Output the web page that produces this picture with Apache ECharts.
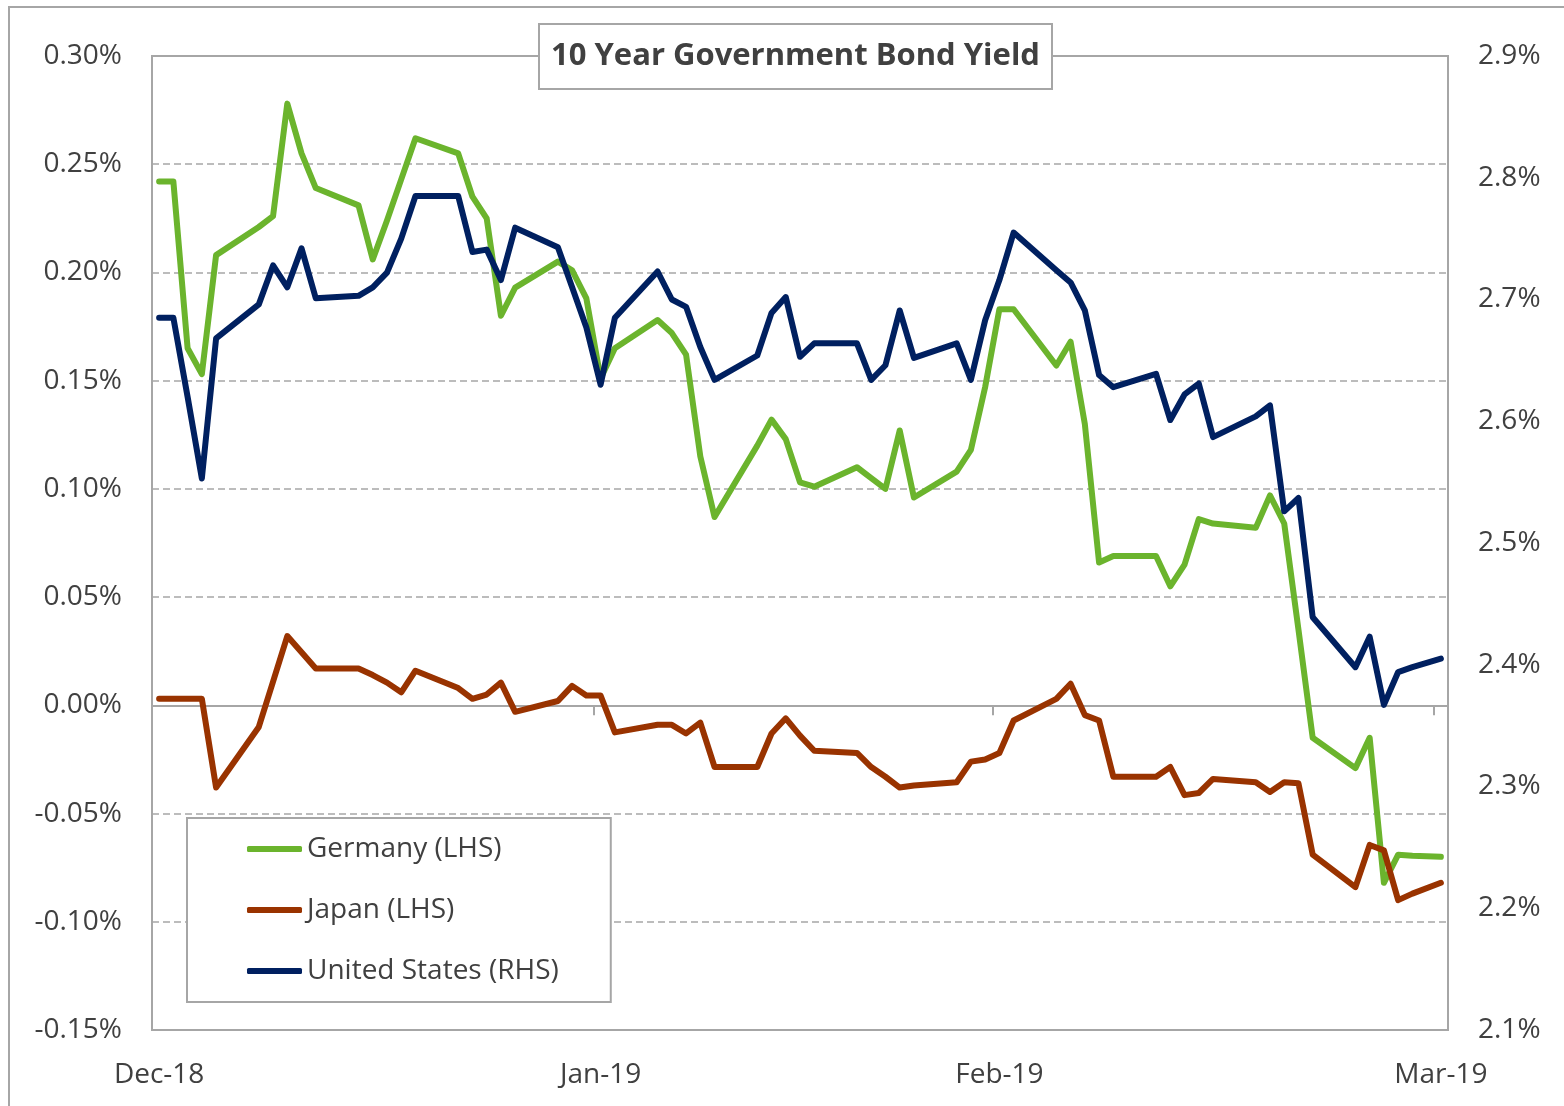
<!DOCTYPE html>
<html>
<head>
    <meta charset="UTF-8">
    <title>10 Year Government Bond Yield</title>
    <script src="https://cdn.jsdelivr.net/npm/echarts@6/dist/echarts.min.js"></script>
    <style>
        html, body {margin: 0; padding: 0; background: #fff;}
        #main {width: 1564px; height: 1106px;}
    </style>
</head>
<body>
<div id="main"></div>
<script>
    // trading days in the chart (weekends are skipped, the line just joins across them)
    var tradeDates = [
        '2018-12-31', '2019-01-01', '2019-01-02', '2019-01-03', '2019-01-04',
        '2019-01-07', '2019-01-08', '2019-01-09', '2019-01-10', '2019-01-11',
        '2019-01-14', '2019-01-15', '2019-01-16', '2019-01-17', '2019-01-18',
        '2019-01-21', '2019-01-22', '2019-01-23', '2019-01-24', '2019-01-25',
        '2019-01-28', '2019-01-29', '2019-01-30', '2019-01-31', '2019-02-01',
        '2019-02-04', '2019-02-05', '2019-02-06', '2019-02-07', '2019-02-08',
        '2019-02-11', '2019-02-12', '2019-02-13', '2019-02-14', '2019-02-15',
        '2019-02-18', '2019-02-19', '2019-02-20', '2019-02-21', '2019-02-22',
        '2019-02-25', '2019-02-26', '2019-02-27', '2019-02-28', '2019-03-01',
        '2019-03-04', '2019-03-05', '2019-03-06', '2019-03-07', '2019-03-08',
        '2019-03-11', '2019-03-12', '2019-03-13', '2019-03-14', '2019-03-15',
        '2019-03-18', '2019-03-19', '2019-03-20', '2019-03-21', '2019-03-22',
        '2019-03-25', '2019-03-26', '2019-03-27', '2019-03-28', '2019-03-29',
        '2019-03-31'
    ];
    // yields in %
    var germany = [
        0.242, 0.242, 0.165, 0.153, 0.208,
        0.221, 0.226, 0.278, 0.255, 0.239,
        0.231, 0.206, 0.224, 0.243, 0.262,
        0.255, 0.235, 0.225, 0.180, 0.193,
        0.205, 0.201, 0.188, 0.151, 0.165,
        0.178, 0.172, 0.162, 0.115, 0.087,
        0.120, 0.132, 0.123, 0.103, 0.101,
        0.110, 0.105, 0.100, 0.127, 0.096,
        0.108, 0.118, 0.147, 0.183, 0.183,
        0.157, 0.168, 0.130, 0.066, 0.069,
        0.069, 0.055, 0.065, 0.086, 0.084,
        0.082, 0.097, 0.084, 0.035, -0.015,
        -0.029, -0.015, -0.082, -0.069, -0.0695,
        -0.070
    ];
    var japan = [
        0.003, 0.003, 0.003, 0.003, -0.038,
        -0.010, 0.011, 0.032, 0.0245, 0.017,
        0.017, 0.014, 0.0105, 0.006, 0.016,
        0.008, 0.003, 0.005, 0.0105, -0.003,
        0.002, 0.009, 0.0045, 0.0045, -0.0125,
        -0.009, -0.009, -0.013, -0.008, -0.0285,
        -0.0285, -0.013, -0.006, -0.014, -0.021,
        -0.022, -0.0285, -0.033, -0.038, -0.037,
        -0.0355, -0.026, -0.025, -0.022, -0.007,
        0.003, 0.010, -0.0045, -0.007, -0.033,
        -0.033, -0.0285, -0.0415, -0.0405, -0.034,
        -0.0355, -0.040, -0.0355, -0.036, -0.069,
        -0.084, -0.0645, -0.067, -0.090, -0.087,
        -0.082
    ];
    var unitedStates = [
        2.685, 2.685, 2.620, 2.553, 2.668,
        2.696, 2.728, 2.710, 2.742, 2.701,
        2.703, 2.710, 2.722, 2.750, 2.785,
        2.785, 2.739, 2.741, 2.716, 2.759,
        2.743, 2.710, 2.677, 2.630, 2.685,
        2.723, 2.700, 2.694, 2.661, 2.634,
        2.654, 2.689, 2.702, 2.653, 2.664,
        2.664, 2.634, 2.646, 2.691, 2.652,
        2.664, 2.634, 2.683, 2.716, 2.755,
        2.724, 2.714, 2.691, 2.638, 2.628,
        2.639, 2.601, 2.622, 2.631, 2.587,
        2.604, 2.613, 2.526, 2.537, 2.439,
        2.398, 2.423, 2.367, 2.394, 2.398,
        2.405
    ];
    var monthLabelDays = ['2018-12-31', '2019-01-31', '2019-02-28', '2019-03-31'];
    var monthLabels = ['Dec-18', 'Jan-19', 'Feb-19', 'Mar-19'];
    var tickDays = ['2019-01-31', '2019-02-28', '2019-03-31'];

    // one category per calendar day, Dec 31 to Mar 31
    var days = [];
    var d = new Date(Date.UTC(2018, 11, 31));
    var endTime = Date.UTC(2019, 2, 31);
    while (d.getTime() <= endTime) {
        days.push(d.toISOString().slice(0, 10));
        d.setUTCDate(d.getUTCDate() + 1);
    }

    function pairs(values) {
        return tradeDates.map(function (t, i) { return [t, values[i]]; });
    }

    var font = 'Open Sans';
    var textColor = '#404040';
    var frameColor = '#a6a6a6';
    var lineStyleOf = function (color) {
        return {color: color, width: 6, cap: 'round', join: 'round'};
    };

    var myChart = echarts.init(document.getElementById('main'));
    var option = {
        animation: false,
        backgroundColor: '#fff',
        title: {
            text: '10 Year Government Bond Yield',
            left: 539,
            top: 24,
            padding: [16, 12],
            borderColor: frameColor,
            borderWidth: 2,
            backgroundColor: '#fff',
            textStyle: {fontFamily: font, fontWeight: 'bold', fontSize: 31, lineHeight: 33, color: textColor}
        },
        legend: {
            orient: 'vertical',
            left: 187,
            top: 818,
            padding: [15, 52, 15, 60],
            icon: 'roundRect',
            itemWidth: 55,
            itemHeight: 6,
            itemGap: 29,
            borderColor: frameColor,
            borderWidth: 2,
            backgroundColor: '#fff',
            textStyle: {fontFamily: font, fontSize: 28, lineHeight: 32, color: textColor},
            data: ['Germany (LHS)', 'Japan (LHS)', 'United States (RHS)']
        },
        grid: {
            left: 152,
            right: 116,
            top: 56,
            bottom: 76,
            show: true,
            borderColor: frameColor,
            borderWidth: 2,
            backgroundColor: 'transparent'
        },
        graphic: [{
            type: 'rect',
            silent: true,
            z: -10,
            shape: {x: 9, y: 7, width: 1600, height: 1200},
            style: {fill: 'none', stroke: frameColor, lineWidth: 2}
        }],
        xAxis: [
            {
                // month labels along the bottom
                type: 'category',
                data: days,
                boundaryGap: true,
                position: 'bottom',
                axisLine: {show: false, onZero: false},
                axisTick: {show: false},
                axisLabel: {
                    interval: function (index, value) { return monthLabelDays.indexOf(value) >= 0; },
                    formatter: function (value) { return monthLabels[monthLabelDays.indexOf(value)]; },
                    margin: 31,
                    fontFamily: font,
                    fontSize: 28,
                    color: textColor
                },
                splitLine: {show: false}
            },
            {
                // axis line sitting on 0.00% with the month-end ticks
                type: 'category',
                data: days,
                boundaryGap: true,
                position: 'bottom',
                axisLine: {show: true, onZero: true, onZeroAxisIndex: 0, lineStyle: {color: frameColor, width: 2}},
                axisTick: {
                    show: true,
                    length: 10,
                    interval: function (index, value) { return tickDays.indexOf(value) >= 0; },
                    lineStyle: {color: frameColor, width: 2}
                },
                axisLabel: {show: false},
                splitLine: {show: false}
            }
        ],
        yAxis: [
            {
                type: 'value',
                min: -0.15,
                max: 0.30,
                interval: 0.05,
                axisLine: {show: false},
                axisTick: {show: false},
                axisLabel: {
                    formatter: function (v) { return v.toFixed(2) + '%'; },
                    margin: 30,
                    fontFamily: font,
                    fontSize: 28,
                    color: textColor
                },
                splitLine: {show: true, lineStyle: {color: frameColor, width: 1.5, type: [7, 4]}}
            },
            {
                type: 'value',
                min: 2.1,
                max: 2.9,
                interval: 0.1,
                position: 'right',
                axisLine: {show: false},
                axisTick: {show: false},
                axisLabel: {
                    formatter: function (v) { return v.toFixed(1) + '%'; },
                    margin: 30,
                    fontFamily: font,
                    fontSize: 28,
                    color: textColor
                },
                splitLine: {show: false}
            }
        ],
        series: [
            {
                name: 'Germany (LHS)',
                type: 'line',
                xAxisIndex: 0,
                yAxisIndex: 0,
                symbol: 'none',
                color: '#6BB42D',
                lineStyle: lineStyleOf('#6BB42D'),
                data: pairs(germany)
            },
            {
                name: 'Japan (LHS)',
                type: 'line',
                xAxisIndex: 0,
                yAxisIndex: 0,
                symbol: 'none',
                color: '#993300',
                lineStyle: lineStyleOf('#993300'),
                data: pairs(japan)
            },
            {
                name: 'United States (RHS)',
                type: 'line',
                xAxisIndex: 0,
                yAxisIndex: 1,
                symbol: 'none',
                color: '#002060',
                lineStyle: lineStyleOf('#002060'),
                data: pairs(unitedStates)
            }
        ]
    };
    myChart.setOption(option);
</script>
</body>
</html>
